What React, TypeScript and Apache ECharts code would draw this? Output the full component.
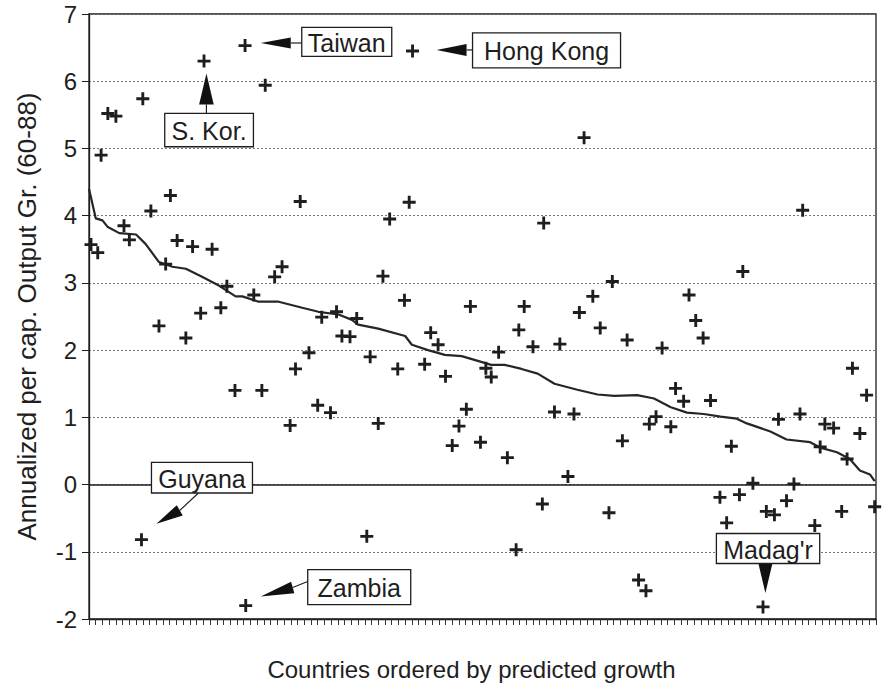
import React, { useEffect, useRef } from "react";
import * as echarts from "echarts";

// Position of each country along the ranking (countries ordered by predicted growth)
const countryPos = [0.3, 1.3, 1.8, 2.8, 4.0, 5.2, 6.0, 7.8, 8.0, 9.2, 10.4, 11.4, 12.1, 13.1, 14.4, 15.4, 16.6, 17.1, 18.3, 19.6, 20.5, 21.7, 23.2, 23.3, 24.5, 25.7, 26.2, 27.6, 28.7, 29.9, 30.7, 31.4, 32.7, 34.0, 34.6, 35.9, 36.8, 37.6, 38.8, 39.8, 41.3, 41.8, 43.0, 43.7, 44.7, 45.9, 46.9, 47.6, 48.1, 49.9, 50.8, 51.9, 53.0, 54.0, 55.0, 56.1, 56.7, 58.2, 59.0, 59.8, 60.9, 62.2, 63.5, 63.9, 64.7, 66.0, 67.4, 67.6, 69.2, 70.0, 71.2, 72.1, 72.9, 73.6, 74.9, 76.0, 77.3, 77.8, 79.3, 80.0, 81.7, 82.8, 83.3, 84.3, 85.2, 86.5, 87.2, 88.4, 89.2, 90.2, 91.3, 92.4, 93.8, 94.8, 95.5, 96.7, 97.2, 98.7, 100.2, 100.7, 101.9, 102.5, 103.7, 104.8, 105.7, 106.1, 107.9, 108.7, 109.4, 110.7, 111.9, 112.7, 113.5, 114.6, 115.6, 116.8];

// Actual annualized per capita output growth, 1960-88
const actualGrowth = [3.57, 3.45, 4.90, 5.52, 5.48, 3.85, 3.64, -0.82, 5.74, 4.07, 2.36, 3.28, 4.30, 3.63, 2.18, 3.54, 2.55, 6.30, 3.50, 2.63, 2.95, 1.40, 6.53, -1.80, 2.82, 1.40, 5.94, 3.09, 3.24, 0.88, 1.72, 4.21, 1.96, 1.18, 2.49, 1.07, 2.57, 2.21, 2.20, 2.47, -0.77, 1.90, 0.91, 3.10, 3.95, 1.72, 2.74, 4.20, 6.45, 1.79, 2.26, 2.08, 1.61, 0.58, 0.87, 1.12, 2.65, 0.63, 1.73, 1.60, 1.97, 0.40, -0.97, 2.30, 2.65, 2.05, -0.29, 3.89, 1.08, 2.09, 0.12, 1.05, 2.56, 5.16, 2.80, 2.33, -0.42, 3.02, 0.65, 2.15, -1.42, -1.58, 0.90, 1.01, 2.03, 0.86, 1.43, 1.24, 2.82, 2.44, 2.18, 1.25, -0.19, -0.57, 0.57, -0.15, 3.17, 0.02, -1.82, -0.40, -0.45, 0.97, -0.24, 0.01, 1.05, 4.08, -0.61, 0.56, 0.90, 0.84, -0.40, 0.38, 1.73, 0.76, 1.33, -0.33];

// Predicted growth curve
const predPos = [0, 1.0, 2.0, 2.8, 4.5, 7.0, 8.4, 10.4, 12.4, 14.4, 16.8, 19.3, 21.8, 22.8, 25.2, 28.2, 31.7, 34.1, 37.1, 39.1, 40.0, 43.0, 47.0, 48.0, 50.4, 52.9, 55.4, 57.8, 59.8, 61.8, 64.3, 66.7, 69.2, 72.6, 75.6, 78.1, 81.5, 84.0, 86.5, 88.9, 91.4, 93.9, 96.3, 97.8, 101.3, 103.7, 107.2, 108.7, 111.2, 113.1, 114.6, 116.1, 116.8];
const predictedGrowth = [4.40, 3.96, 3.93, 3.83, 3.74, 3.72, 3.58, 3.31, 3.24, 3.21, 3.09, 2.96, 2.80, 2.80, 2.72, 2.72, 2.63, 2.57, 2.53, 2.45, 2.38, 2.32, 2.21, 2.08, 2.00, 1.93, 1.91, 1.84, 1.78, 1.78, 1.72, 1.65, 1.50, 1.41, 1.34, 1.32, 1.33, 1.28, 1.15, 1.07, 1.05, 1.01, 0.98, 0.91, 0.79, 0.67, 0.63, 0.55, 0.48, 0.38, 0.21, 0.15, 0.05];

const yMin = -2;
const yMax = 7;
const countryCount = 117;

const xAxisTitle = "Countries ordered by predicted growth";
const yAxisTitle = "Annualized per cap. Output Gr. (60-88)";

const labelledNames = ["Guyana", "S. Kor.", "Taiwan", "Zambia", "Hong Kong", "Madag'r"];
const labelledIndex = [7, 17, 22, 23, 48, 98];

// ---- layout / style (pixel offsets relative to the labelled point) ----
const FONT = "'Liberation Sans', Arial, Helvetica, sans-serif";
const INK = "#1e1e1e";
const PLUS = "path://M3.9,0H6.1V3.9H10V6.1H6.1V10H3.9V6.1H0V3.9H3.9Z";

type Ann = {
  box: [number, number, number, number];
  tip: [number, number];
  base: [number, number];
  hw: number;
  end?: [number, number];
};
const annLayout: Record<string, Ann> = {
  Taiwan: { box: [56.7, -18.3, 146.7, 10.7], tip: [15.7, -2.6], base: [45.7, -2.6], hw: 5.5, end: [56.7, -2.6] },
  "Hong Kong": { box: [60, -18, 208, 17], tip: [24, -1], base: [54, -1], hw: 6, end: [60, -1] },
  "S. Kor.": { box: [-39.3, 52.4, 49.4, 85.7], tip: [2.4, 12.4], base: [2.4, 43.4], hw: 7.3, end: [2.4, 52.4] },
  Guyana: { box: [10, -77.3, 111, -46.7], tip: [15, -16], base: [38.3, -29.3], hw: 6, end: [57, -46.7] },
  Zambia: { box: [62, -36, 165, -1], tip: [15, -9], base: [47, -18], hw: 6, end: [62, -24] },
  "Madag'r": { box: [-46.6, -73.4, 56.7, -43.4], tip: [2.4, -14], base: [2.4, -43.4], hw: 7 },
};

export default function App() {
  const ref = useRef<HTMLDivElement>(null);

  useEffect(() => {
    if (!ref.current) return;
    const chart = echarts.init(ref.current, undefined, { renderer: "svg" });

    const option: any = {
      animation: false,
      backgroundColor: "#ffffff",
      textStyle: { fontFamily: FONT, color: INK },
      grid: {
        left: 89,
        right: 6,
        top: 14,
        bottom: 66,
        show: true,
        borderColor: INK,
        borderWidth: 1.3,
        backgroundColor: "transparent",
      },
      xAxis: {
        type: "value",
        min: 0,
        max: countryCount,
        interval: 1,
        axisLine: { show: true, onZero: false, lineStyle: { color: INK, width: 1.3 } },
        axisTick: { show: true, inside: false, length: 6, lineStyle: { color: "#333", width: 1 } },
        axisLabel: { show: false },
        splitLine: { show: false },
        name: xAxisTitle,
        nameLocation: "middle",
        nameGap: 38,
        nameTextStyle: { fontSize: 24, color: INK, fontFamily: FONT, padding: [0, 22, 0, 0] },
      },
      yAxis: {
        type: "value",
        min: yMin,
        max: yMax,
        interval: 1,
        axisLine: { show: true, lineStyle: { color: INK, width: 1.3 } },
        axisTick: { show: true, inside: false, length: 7, lineStyle: { color: INK, width: 1 } },
        axisLabel: { fontSize: 24, color: INK, margin: 12, fontFamily: FONT },
        splitLine: { show: true, lineStyle: { type: [2, 2], color: "#777", width: 1 } },
        name: yAxisTitle,
        nameLocation: "middle",
        nameGap: 49,
        nameTextStyle: { fontSize: 26, color: INK, fontFamily: FONT },
      },
      series: [
        {
          type: "line",
          data: predPos.map((x, i) => [x, predictedGrowth[i]]),
          showSymbol: false,
          symbol: "none",
          lineStyle: { color: "#262626", width: 2.2 },
          z: 2,
        },
        {
          type: "scatter",
          data: countryPos.map((x, i) => [x, actualGrowth[i]]),
          symbol: PLUS,
          symbolSize: 13,
          itemStyle: { color: INK, opacity: 1 },
          z: 3,
          markLine: {
            silent: true,
            symbol: "none",
            label: { show: false },
            lineStyle: { color: INK, type: "solid", width: 1.5 },
            data: [{ yAxis: 0 }],
          },
        },
      ],
    };

    chart.setOption(option);

    const graphics: any[] = [];
    labelledNames.forEach((name, k) => {
      const i = labelledIndex[k];
      const p = chart.convertToPixel({ xAxisIndex: 0, yAxisIndex: 0 }, [countryPos[i], actualGrowth[i]]) as number[];
      const L = annLayout[name];
      const [bx0, by0, bx1, by1] = L.box;
      const tx = p[0] + L.tip[0];
      const ty = p[1] + L.tip[1];
      const cx = p[0] + L.base[0];
      const cy = p[1] + L.base[1];
      const dx = cx - tx;
      const dy = cy - ty;
      const len = Math.sqrt(dx * dx + dy * dy) || 1;
      const px = (-dy / len) * L.hw;
      const py = (dx / len) * L.hw;
      if (L.end) {
        graphics.push({
          type: "line",
          z: 100,
          shape: { x1: cx, y1: cy, x2: p[0] + L.end[0], y2: p[1] + L.end[1] },
          style: { stroke: INK, lineWidth: 1.2 },
        });
      }
      graphics.push({
        type: "polygon",
        z: 101,
        shape: { points: [[tx, ty], [cx + px, cy + py], [cx - px, cy - py]] },
        style: { fill: "#111" },
      });
      graphics.push({
        type: "rect",
        z: 102,
        shape: { x: p[0] + bx0, y: p[1] + by0, width: bx1 - bx0, height: by1 - by0 },
        style: { fill: "#ffffff", stroke: INK, lineWidth: 1.3 },
      });
      graphics.push({
        type: "text",
        z: 103,
        x: p[0] + (bx0 + bx1) / 2,
        y: p[1] + (by0 + by1) / 2 + 1,
        style: {
          text: name,
          fontSize: 25,
          fontFamily: FONT,
          fill: INK,
          align: "center",
          verticalAlign: "middle",
        },
      });
    });
    chart.setOption({ graphic: graphics });

    return () => chart.dispose();
  }, []);

  return (
    <div
      ref={ref}
      style={{ position: "absolute", left: 0, top: 0, width: 882, height: 686, background: "#fff" }}
    />
  );
}
